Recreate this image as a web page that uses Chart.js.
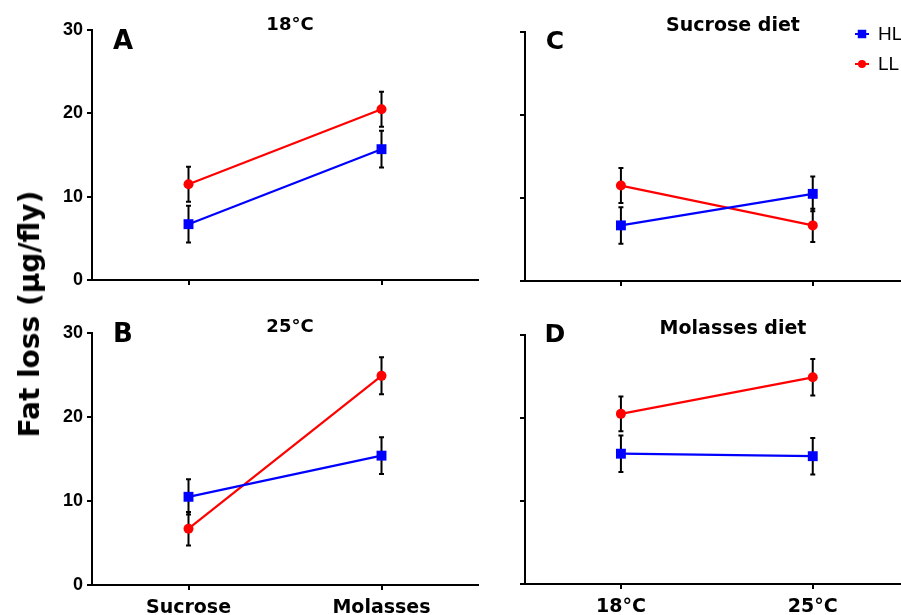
<!DOCTYPE html>
<html>
<head>
<meta charset="utf-8">
<script src="https://cdn.jsdelivr.net/npm/chart.js@4"></script>
<style>
  html, body { margin:0; padding:0; background:#fff; width:901px; height:615px; overflow:hidden; position:relative; }
  canvas { position:absolute; }
  .t { position:absolute; transform:translate(-50%,-50%); line-height:1; white-space:nowrap; font-family:"DejaVu Sans", sans-serif; font-weight:bold; color:#000; }
</style>
</head>
<body>
<canvas id="cA" style="left:40px;top:0px;width:440px;height:300px" width="440" height="300"></canvas>
<canvas id="cC" style="left:470px;top:0px;width:431px;height:300px" width="431" height="300"></canvas>
<canvas id="cB" style="left:40px;top:300px;width:440px;height:315px" width="440" height="315"></canvas>
<canvas id="cD" style="left:470px;top:300px;width:431px;height:315px" width="431" height="315"></canvas>

<div class="t" style="left:123px;top:40px;font-size:26px">A</div>
<div class="t" style="left:290px;top:24px;font-size:18px">18°C</div>
<div class="t" style="left:555px;top:40px;font-size:25px">C</div>
<div class="t" style="left:733px;top:24px;font-size:19px">Sucrose diet</div>
<div class="t" style="left:123px;top:333px;font-size:26px">B</div>
<div class="t" style="left:290px;top:326px;font-size:18px">25°C</div>
<div class="t" style="left:555px;top:333px;font-size:25px">D</div>
<div class="t" style="left:733px;top:327px;font-size:19px">Molasses diet</div>
<div class="t" style="left:30px;top:314px;font-size:28px;transform:translate(-50%,-50%) rotate(-90deg)">Fat loss (µg/fly)</div>

<script>
// ---- data ----
const diets = ['Sucrose', 'Molasses'];
const temps = ['18°C', '25°C'];
const yTicks = [0, 10, 20, 30];
// values per diet [Sucrose, Molasses]
const hl18 = [6.7, 15.7];
const hl18Err = [2.2, 2.2];
const ll18 = [11.5, 20.5];
const ll18Err = [2.1, 2.1];
const hl25 = [10.5, 15.4];
const hl25Err = [2.1, 2.2];
const ll25 = [6.7, 24.9];
const ll25Err = [2.0, 2.2];

const BLUE = '#0000ff';
const RED = '#ff0000';

const errorBars = {
  id: 'errorBars',
  beforeDatasetsDraw(chart) {
    const ctx = chart.ctx;
    const ys = chart.scales.y;
    ctx.save();
    ctx.strokeStyle = '#000';
    ctx.lineWidth = 2;
    chart.data.datasets.forEach((ds, i) => {
      const meta = chart.getDatasetMeta(i);
      ds.data.forEach((pt, j) => {
        const e = ds.errors[j];
        const x = meta.data[j].x;
        const t = ys.getPixelForValue(pt.y + e);
        const b = ys.getPixelForValue(pt.y - e);
        ctx.beginPath();
        ctx.moveTo(x, t); ctx.lineTo(x, b);
        ctx.moveTo(x - 2.5, t); ctx.lineTo(x + 2.5, t);
        ctx.moveTo(x - 2.5, b); ctx.lineTo(x + 2.5, b);
        ctx.stroke();
      });
    });
    ctx.restore();
  }
};

const legendPlugin = {
  id: 'customLegend',
  afterDraw(chart, args, opts) {
    if (!opts.show) return;
    const ctx = chart.ctx;
    const items = chart.data.datasets;
    items.forEach((ds, i) => {
      const y = opts.y + i * opts.gap;
      ctx.save();
      ctx.strokeStyle = ds.borderColor;
      ctx.lineWidth = 2;
      ctx.beginPath();
      ctx.moveTo(opts.x - 7, y); ctx.lineTo(opts.x + 7, y);
      ctx.stroke();
      ctx.fillStyle = ds.backgroundColor;
      Chart.helpers.drawPoint(ctx, { pointStyle: ds.pointStyle, radius: ds.pointRadius - 1, borderWidth: 0 }, opts.x, y);
      ctx.fillStyle = '#000';
      ctx.font = '19px "Liberation Sans", Arial, sans-serif';
      ctx.textBaseline = 'middle';
      ctx.fillText(ds.label, opts.x + 16, y + 1);
      ctx.restore();
    });
  }
};

function pts(vals) { return vals.map((v, i) => ({ x: i, y: v })); }

function makeChart(id, cfg) {
  const hl = { label: 'HL', data: pts(cfg.hl), errors: cfg.hlErr, borderColor: BLUE, backgroundColor: BLUE,
    pointStyle: 'rect', pointRadius: 7, pointBorderWidth: 0, borderWidth: 2.2, tension: 0 };
  const ll = { label: 'LL', data: pts(cfg.ll), errors: cfg.llErr, borderColor: RED, backgroundColor: RED,
    pointStyle: 'circle', pointRadius: 5, pointBorderWidth: 0, borderWidth: 2.2, tension: 0 };
  return new Chart(document.getElementById(id), {
    type: 'line',
    data: { datasets: [hl, ll] },
    plugins: [errorBars, legendPlugin],
    options: {
      responsive: false,
      animation: false,
      events: [],
      layout: { autoPadding: false, padding: { top: cfg.padTop, right: cfg.padRight, left: 0, bottom: 0 } },
      plugins: {
        legend: { display: false },
        tooltip: { enabled: false },
        customLegend: cfg.legend || { show: false }
      },
      scales: {
        x: {
          type: 'linear',
          min: -0.5, max: cfg.xMax,
          afterBuildTicks(s) { s.ticks = [{ value: 0 }, { value: 1 }]; },
          afterFit(s) { s.height = cfg.xH; s.paddingLeft = 0; s.paddingRight = 0; s.paddingTop = 0; s.paddingBottom = 0; },
          border: { display: true, color: '#000', width: 2 },
          grid: { display: true, drawOnChartArea: false, drawTicks: true, tickLength: 5, color: '#000', lineWidth: 2 },
          ticks: {
            display: !!cfg.xLabels,
            padding: 7,
            maxRotation: 0,
            autoSkip: false,
            color: '#000',
            font: { family: '"DejaVu Sans", sans-serif', weight: 'bold', size: 19 },
            callback: (v) => cfg.xLabels ? (cfg.xLabels[v] || '') : ''
          }
        },
        y: {
          min: 0, max: 30,
          afterBuildTicks(s) { s.ticks = yTicks.map(v => ({ value: v })); },
          afterFit(s) { s.width = cfg.yW; s.paddingLeft = 0; s.paddingRight = 0; s.paddingTop = 0; s.paddingBottom = 0; },
          border: { display: true, color: '#000', width: 2 },
          grid: { display: true, drawOnChartArea: false, drawTicks: true, tickLength: 5, color: '#000', lineWidth: 2 },
          ticks: {
            display: cfg.yLabels,
            padding: 4,
            color: '#000',
            font: { family: '"Liberation Sans", Arial, sans-serif', weight: 'bold', size: 18 }
          }
        }
      }
    }
  });
}

// A: 18°C, x = diet
makeChart('cA', { hl: hl18, hlErr: hl18Err, ll: ll18, llErr: ll18Err,
  padTop: 30, padRight: 2, xH: 20, yW: 52, xMax: 1.5, yLabels: true, xLabels: null });
// B: 25°C, x = diet
makeChart('cB', { hl: hl25, hlErr: hl25Err, ll: ll25, llErr: ll25Err,
  padTop: 33, padRight: 2, xH: 30, yW: 52, xMax: 1.5, yLabels: true, xLabels: diets });
// C: Sucrose diet, x = temperature
makeChart('cC', { hl: [hl18[0], hl25[0]], hlErr: [hl18Err[0], hl25Err[0]], ll: [ll18[0], ll25[0]], llErr: [ll18Err[0], ll25Err[0]],
  padTop: 32, padRight: 0, xH: 19, yW: 55, xMax: 1.46, yLabels: false, xLabels: null,
  legend: { show: true, x: 392, y: 34, gap: 30 } });
// D: Molasses diet, x = temperature
makeChart('cD', { hl: [hl18[1], hl25[1]], hlErr: [hl18Err[1], hl25Err[1]], ll: [ll18[1], ll25[1]], llErr: [ll18Err[1], ll25Err[1]],
  padTop: 35, padRight: 0, xH: 31, yW: 55, xMax: 1.46, yLabels: false, xLabels: temps });
</script>
</body>
</html>
